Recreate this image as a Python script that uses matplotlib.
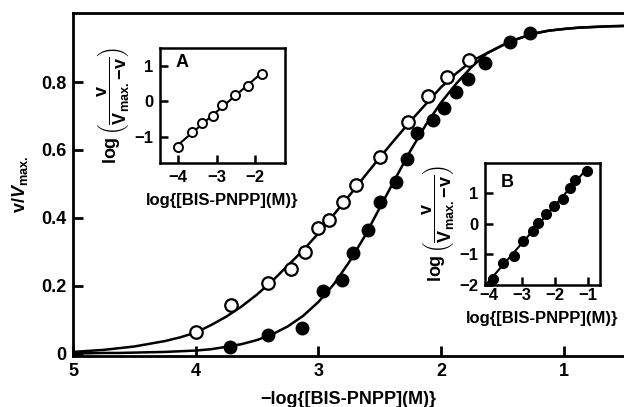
import numpy as np
import matplotlib
matplotlib.use("Agg")
import matplotlib.pyplot as plt

plt.rcParams["font.family"] = ["Liberation Sans", "DejaVu Sans"]
plt.rcParams["font.weight"] = "bold"
plt.rcParams["axes.labelweight"] = "bold"
plt.rcParams["mathtext.fontset"] = "custom"
plt.rcParams["mathtext.rm"] = "Liberation Sans:bold"
plt.rcParams["mathtext.it"] = "Liberation Sans:italic:bold"
plt.rcParams["mathtext.bf"] = "Liberation Sans:bold"

# main plot: -log[S] vs v/Vmax
open_x = [4.00, 3.71, 3.41, 3.22, 3.11, 3.00, 2.91, 2.80, 2.69, 2.50, 2.27, 2.11, 1.95, 1.77]
open_y = [0.065, 0.145, 0.21, 0.25, 0.30, 0.37, 0.394, 0.447, 0.497, 0.578, 0.682, 0.76, 0.815, 0.865]
filled_x = [3.72, 3.41, 3.13, 2.96, 2.81, 2.72, 2.60, 2.50, 2.37, 2.28, 2.20, 2.07, 1.98, 1.88, 1.78, 1.64, 1.44, 1.28]
filled_y = [0.02, 0.056, 0.077, 0.185, 0.218, 0.297, 0.365, 0.447, 0.506, 0.574, 0.65, 0.688, 0.723, 0.77, 0.81,
            0.855, 0.918, 0.944]

# fitted curves
curve_x = [5.0, 4.875, 4.75, 4.625, 4.5, 4.375, 4.25, 4.125, 4.0, 3.875, 3.75, 3.625, 3.5, 3.375, 3.25, 3.125,
           3.0, 2.875, 2.75, 2.625, 2.5, 2.375, 2.25, 2.125, 2.0, 1.875, 1.75, 1.625, 1.5, 1.375, 1.25, 1.125,
           1.0, 0.875, 0.75, 0.625, 0.5]
curve_open = [0.006, 0.009, 0.012, 0.017, 0.022, 0.030, 0.038, 0.049, 0.063, 0.085, 0.11, 0.14, 0.175, 0.215,
              0.26, 0.305, 0.355, 0.41, 0.465, 0.522, 0.578, 0.632, 0.685, 0.735, 0.785, 0.826, 0.862, 0.885,
              0.908, 0.927, 0.942, 0.951, 0.956, 0.960, 0.962, 0.964, 0.965]
curve_filled = [0.002, 0.002, 0.003, 0.003, 0.004, 0.005, 0.006, 0.008, 0.010, 0.014, 0.021, 0.029, 0.041, 0.058,
                0.081, 0.112, 0.153, 0.205, 0.27, 0.345, 0.43, 0.515, 0.598, 0.674, 0.74, 0.796, 0.845, 0.885,
                0.908, 0.927, 0.942, 0.951, 0.956, 0.960, 0.962, 0.964, 0.965]

# inset A (open symbols)
a_x = [-4.0, -3.64, -3.38, -3.09, -2.86, -2.52, -2.18, -1.82]
a_y = [-1.28, -0.86, -0.62, -0.40, -0.09, 0.17, 0.44, 0.78]

# inset B (filled symbols)
b_x = [-3.88, -3.58, -3.25, -2.98, -2.68, -2.53, -2.26, -2.02, -1.75, -1.54, -1.39, -1.03]
b_y = [-1.8, -1.28, -1.05, -0.56, -0.23, 0.03, 0.33, 0.59, 0.82, 1.18, 1.44, 1.72]

W, H = 624, 407
fig = plt.figure(figsize=(W / 100, H / 100), dpi=100)


def px_axes(left, top, right, bottom):
    return fig.add_axes([left / W, (H - bottom) / H, (right - left) / W, (bottom - top) / H])


def style(ax, lw=1.8):
    for s in ax.spines.values():
        s.set_linewidth(lw)
    ax.tick_params(direction="in", width=lw, length=6, labelsize=12, pad=5)


# ---- main axes
ax = px_axes(73, 13, 624, 356)
ax.plot(curve_x, curve_open, color="black", lw=1.8, zorder=2)
ax.plot(curve_x, curve_filled, color="black", lw=1.8, zorder=2)
ax.plot(open_x, open_y, "o", ms=9, mfc="white", mec="black", mew=1.6, zorder=3)
ax.plot(filled_x, filled_y, "o", ms=9, mfc="black", mec="black", zorder=3)
ax.set_xlim(5, 0.51)
ax.set_ylim(-0.006, 1.003)
ax.spines["right"].set_visible(False)
style(ax, 2.0)
ax.tick_params(length=7, labelsize=13)
ax.set_xticks([5, 4, 3, 2, 1])
ax.set_xticklabels(["5", "4", "3", "2", "1"])
ax.set_yticks([0, 0.2, 0.4, 0.6, 0.8])
ax.set_yticklabels(["0", "0.2", "0.4", "0.6", "0.8"])
ax.set_xlabel("\u2212log{[BIS-PNPP](M)}", fontsize=13, labelpad=8)
ax.set_ylabel(r"v/$V_{\rm max.}$", fontsize=13, labelpad=8)

ylab = r"$\log\left(\dfrac{\mathrm{v}}{\mathrm{V}_{\rm max.}\!-\!\mathrm{v}}\right)$"

# ---- inset A
axa = px_axes(160, 48, 285, 163)
fa = np.polyfit(a_x, a_y, 1)
axa.plot([a_x[0], a_x[-1]], np.polyval(fa, [a_x[0], a_x[-1]]), color="black", lw=1.5)
axa.plot(a_x, a_y, "o", ms=6.5, mfc="white", mec="black", mew=1.4)
axa.set_xlim(-4.47, -1.22)
axa.set_ylim(-1.73, 1.5)
axa.set_xticks([-4, -3, -2])
axa.set_yticks([-1, 0, 1])
style(axa)
axa.text(0.18, 0.87, "A", transform=axa.transAxes, fontsize=13, ha="center", va="center")
axa.set_xlabel("log{[BIS-PNPP](M)}", fontsize=12, labelpad=6)
axa.set_ylabel(ylab, fontsize=13, labelpad=2)

# ---- inset B
axb = px_axes(485, 163, 600, 285)
fb = np.polyfit(b_x, b_y, 1)
axb.plot([-4.12, b_x[-1]], np.polyval(fb, [-4.12, b_x[-1]]), color="black", lw=1.5)
axb.plot(b_x, b_y, "o", ms=7, mfc="black", mec="black")
axb.set_xlim(-4.12, -0.64)
axb.set_ylim(-2, 1.98)
axb.set_xticks([-4, -3, -2, -1])
axb.set_yticks([-2, -1, 0, 1])
style(axb)
axb.tick_params(axis="x", pad=2)
axb.text(0.19, 0.84, "B", transform=axb.transAxes, fontsize=13, ha="center", va="center")
axb.set_xlabel("log{[BIS-PNPP](M)}", fontsize=12, labelpad=6)
axb.set_ylabel(ylab, fontsize=13, labelpad=2)

fig.savefig("out.png", dpi=100)
